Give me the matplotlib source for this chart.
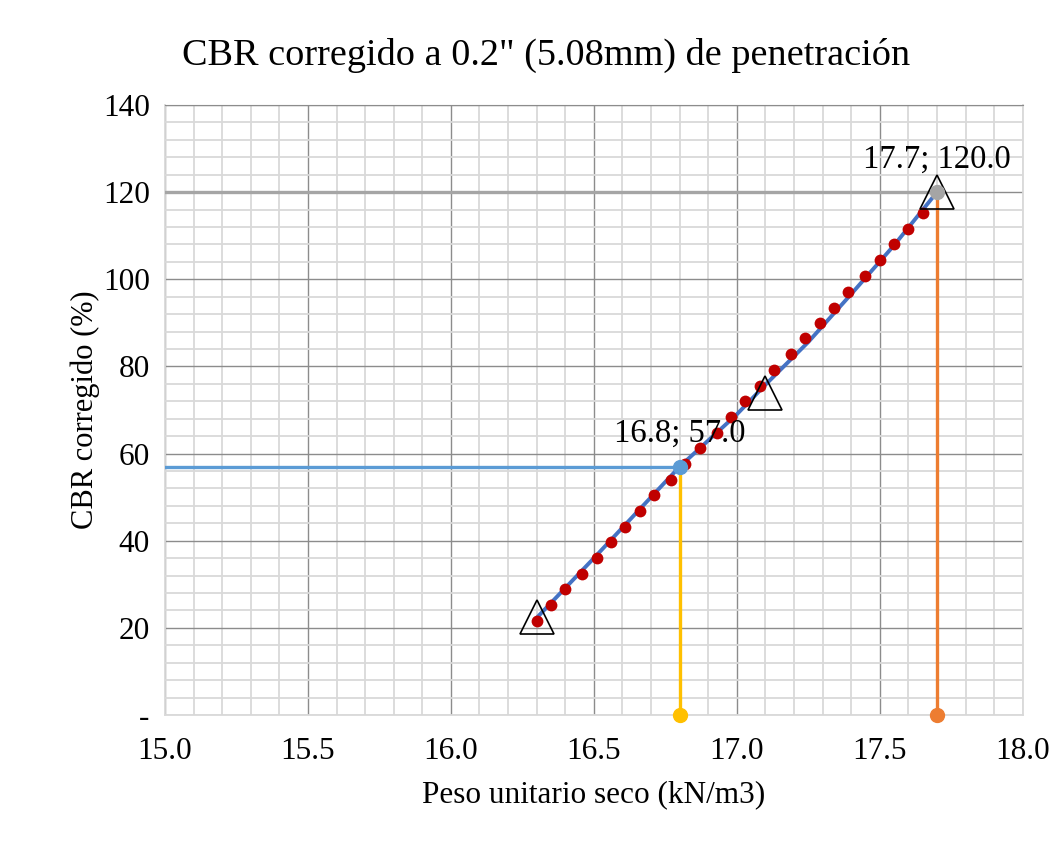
import matplotlib.pyplot as plt
import numpy as np
from matplotlib.ticker import MultipleLocator, FixedLocator

plt.rcParams['font.family'] = ['Liberation Serif', 'DejaVu Serif']

# puntos de ensayo (triangulos)
tri_x = [16.3, 17.1, 17.7]
tri_y = [22.5, 74.0, 120.0]

# curva de ajuste (azul)
fit_x = [16.3, 16.5, 16.8, 17.0, 17.1, 17.25, 17.4, 17.55, 17.7]
fit_y = [22.3, 36.0, 57.0, 69.0, 75.8, 85.6, 96.6, 107.8, 120.0]

# puntos rojos
red_x = [16.30, 16.35, 16.40, 16.46, 16.51, 16.56, 16.61, 16.66, 16.71, 16.77,
         16.82, 16.87, 16.93, 16.98, 17.03, 17.08, 17.13, 17.19, 17.24, 17.29,
         17.34, 17.39, 17.45, 17.50, 17.55, 17.60, 17.65]
red_y = [21.6, 25.3, 28.9, 32.4, 36.0, 39.6, 43.2, 46.8, 50.5, 53.9,
         57.6, 61.3, 64.8, 68.4, 72.1, 75.6, 79.2, 82.9, 86.5, 89.9,
         93.5, 97.2, 100.8, 104.4, 108.0, 111.6, 115.3]

# valores leidos
p95_x, p95_y = 16.8, 57.0
p100_x, p100_y = 17.7, 120.0

x_ticks = [15.0, 15.5, 16.0, 16.5, 17.0, 17.5, 18.0]
y_ticks = [0, 20, 40, 60, 80, 100, 120, 140]
y_labels = ['-'] + [str(v) for v in y_ticks[1:]]

fig = plt.figure(figsize=(10.61, 8.43), dpi=100)
ax = fig.add_axes([0.1555, 0.1518, 0.8084, 0.7236])

ax.set_xlim(15.0, 18.0)
ax.set_ylim(0, 140)

ax.xaxis.set_major_locator(FixedLocator(x_ticks))
ax.yaxis.set_major_locator(FixedLocator(y_ticks))
ax.xaxis.set_minor_locator(MultipleLocator(0.1))
ax.yaxis.set_minor_locator(MultipleLocator(4))
ax.set_xticklabels([f'{v:.1f}' for v in x_ticks])
ax.set_yticklabels(y_labels)

ax.grid(which='minor', color='#D9D9D9', linewidth=1.3, zorder=0)
ax.grid(which='major', color='#8C8C8C', linewidth=1.0, zorder=0)
ax.set_axisbelow(True)
ax.tick_params(which='both', length=0, labelsize=22.5)
ax.tick_params(axis='x', pad=16)
ax.tick_params(axis='y', pad=11)
for s in ['left', 'bottom', 'right']:
    ax.spines[s].set_color('#D9D9D9')
    ax.spines[s].set_linewidth(1.3)
ax.spines['top'].set_color('#8C8C8C')

# lineas de lectura
ax.plot([15.0, p95_x], [p95_y, p95_y], color='#5B9BD5', lw=2.4, zorder=3)
ax.plot([p95_x, p95_x], [0, p95_y], color='#FFC000', lw=2.4, zorder=3)
ax.plot([p95_x], [0], 'o', color='#FFC000', ms=10, zorder=6, clip_on=False)
ax.plot([15.0, p100_x], [p100_y, p100_y], color='#A5A5A5', lw=2.4, zorder=3)
ax.plot([p100_x, p100_x], [0, p100_y], color='#ED7D31', lw=2.4, zorder=3)
ax.plot([p100_x], [0], 'o', color='#ED7D31', ms=10, zorder=6, clip_on=False)

ax.plot(fit_x, fit_y, color='#4472C4', lw=2.8, zorder=4)
ax.plot(red_x, red_y, 'o', color='#C00000', ms=8.5, mec='none', zorder=5)
ax.plot(tri_x, tri_y, '^', mfc='none', mec='black', mew=1.2, ms=25, zorder=5)
ax.plot([p95_x], [p95_y], 'o', color='#5B9BD5', ms=10, zorder=6)
ax.plot([p100_x], [p100_y], 'o', color='#A5A5A5', ms=10, zorder=6)

ax.text(p95_x, p95_y + 7.5, f'{p95_x:.1f}; {p95_y:.1f}', fontsize=23.5,
        ha='center', va='center', zorder=7)
ax.text(p100_x, p100_y + 7.5, f'{p100_x:.1f}; {p100_y:.1f}', fontsize=23.5,
        ha='center', va='center', zorder=7)

ax.set_xlabel('Peso unitario seco (kN/m3)', fontsize=22.5, labelpad=10)
ax.set_ylabel('CBR corregido (%)', fontsize=22, labelpad=2)

fig.text(0.5146, 0.934, 'CBR corregido a 0.2" (5.08mm) de penetración',
         fontsize=27.5, ha='center', va='center')

fig.savefig('out.png', dpi=100)
